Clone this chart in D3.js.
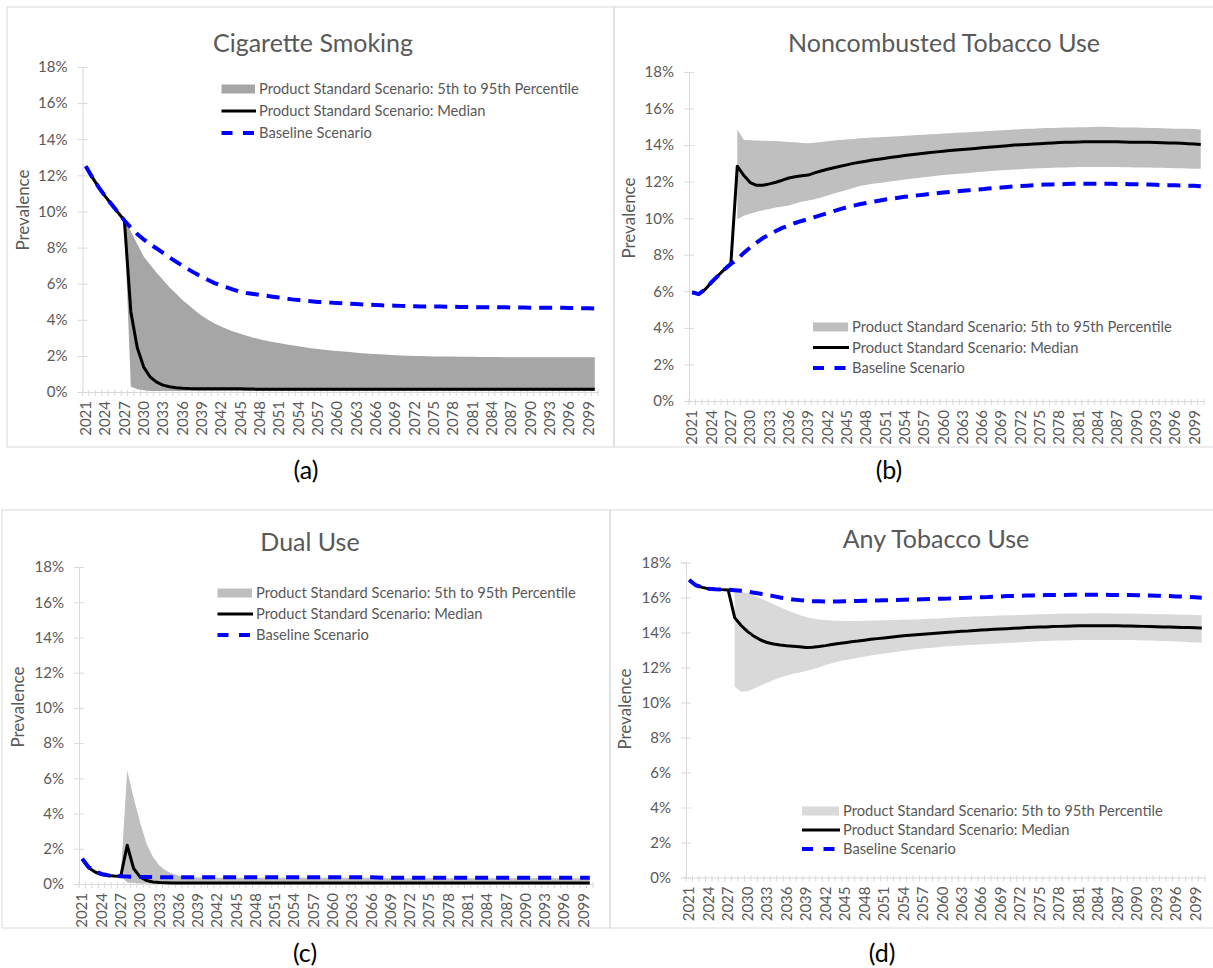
<!DOCTYPE html>
<meta charset='utf-8'>
<style>
  body { margin: 0; background: #fff; }
  text { font-family: Lato, 'Open Sans', sans-serif; }
</style>
<div id='chart'></div>
<script src='https://d3js.org/d3.v7.min.js'></script>
<script>

  // categories
  var years = d3.range(2021, 2101);
  var tickYears = [2021, 2024, 2027, 2030, 2033, 2036, 2039, 2042, 2045, 2048, 2051, 2054, 2057,
    2060, 2063, 2066, 2069, 2072, 2075, 2078, 2081, 2084, 2087, 2090, 2093, 2096, 2099];
  var yTicks = [0, 2, 4, 6, 8, 10, 12, 14, 16, 18];

  var legendLabels = ['Product Standard Scenario: 5th to 95th Percentile',
    'Product Standard Scenario: Median', 'Baseline Scenario'];

  // (a) cigarette smoking, prevalence %
  var aBase = [
    12.5, 11.9, 11.35, 10.85, 10.4, 9.95, 9.5, 9.1, 8.75, 8.45,
    8.18, 7.95, 7.7, 7.45, 7.22, 7.0, 6.78, 6.57, 6.38, 6.2,
    6.03, 5.9, 5.78, 5.66, 5.55, 5.48, 5.43, 5.38, 5.33, 5.28,
    5.23, 5.18, 5.13, 5.09, 5.05, 5.02, 4.99, 4.97, 4.95, 4.93,
    4.91, 4.89, 4.87, 4.85, 4.83, 4.82, 4.8, 4.79, 4.78, 4.77,
    4.76, 4.75, 4.74, 4.74, 4.73, 4.73, 4.72, 4.72, 4.71, 4.71,
    4.7, 4.7, 4.7, 4.69, 4.69, 4.69, 4.68, 4.68, 4.68, 4.67,
    4.67, 4.67, 4.66, 4.66, 4.66, 4.65, 4.65, 4.64, 4.64, 4.63];
  var aMedian = [
    12.5, 11.9, 11.35, 10.85, 10.4, 9.95, 9.5, 4.45, 2.45, 1.38,
    0.83, 0.55, 0.38, 0.29, 0.24, 0.21, 0.19, 0.18, 0.18, 0.18,
    0.18, 0.18, 0.18, 0.18, 0.18, 0.17, 0.16, 0.15, 0.15, 0.15,
    0.15, 0.15, 0.15, 0.15, 0.15, 0.15, 0.15, 0.15, 0.15, 0.15,
    0.15, 0.15, 0.15, 0.15, 0.15, 0.15, 0.15, 0.15, 0.15, 0.15,
    0.15, 0.15, 0.15, 0.15, 0.15, 0.15, 0.15, 0.15, 0.15, 0.15,
    0.15, 0.15, 0.15, 0.15, 0.15, 0.15, 0.15, 0.15, 0.15, 0.15,
    0.15, 0.15, 0.15, 0.15, 0.15, 0.15, 0.15, 0.15, 0.15, 0.15];
  var aHigh = [
    null, null, null, null, null, null, 9.5, 8.9, 8.2, 7.5,
    7.05, 6.6, 6.2, 5.8, 5.45, 5.1, 4.8, 4.5, 4.22, 4.0,
    3.8, 3.63, 3.48, 3.34, 3.22, 3.11, 3.01, 2.92, 2.84, 2.77,
    2.71, 2.65, 2.59, 2.53, 2.48, 2.43, 2.38, 2.34, 2.3, 2.27,
    2.24, 2.21, 2.18, 2.15, 2.12, 2.1, 2.08, 2.06, 2.04, 2.02,
    2.01, 2.0, 1.99, 1.98, 1.97, 1.97, 1.96, 1.96, 1.95, 1.95,
    1.95, 1.94, 1.94, 1.94, 1.94, 1.93, 1.93, 1.93, 1.93, 1.93,
    1.92, 1.92, 1.92, 1.92, 1.92, 1.92, 1.92, 1.92, 1.92, 1.92];
  var aLow = [
    null, null, null, null, null, null, 9.5, 0.3, 0.15, 0.1,
    0.06, 0.06, 0.06, 0.06, 0.06, 0.06, 0.06, 0.06, 0.06, 0.06,
    0.06, 0.06, 0.06, 0.06, 0.06, 0.06, 0.06, 0.06, 0.06, 0.06,
    0.06, 0.06, 0.06, 0.06, 0.06, 0.06, 0.06, 0.06, 0.06, 0.06,
    0.06, 0.06, 0.06, 0.06, 0.06, 0.06, 0.06, 0.06, 0.06, 0.06,
    0.06, 0.06, 0.06, 0.06, 0.06, 0.06, 0.06, 0.06, 0.06, 0.06,
    0.06, 0.06, 0.06, 0.06, 0.06, 0.06, 0.06, 0.06, 0.06, 0.06,
    0.06, 0.06, 0.06, 0.06, 0.06, 0.06, 0.06, 0.06, 0.06, 0.06];

  // (b) noncombusted tobacco use
  var bBase = [
    5.95, 5.85, 6.1, 6.5, 6.85, 7.2, 7.5, 7.75, 8.1, 8.4,
    8.67, 8.92, 9.12, 9.3, 9.47, 9.6, 9.74, 9.85, 9.95, 10.06,
    10.17, 10.28, 10.39, 10.5, 10.6, 10.68, 10.76, 10.83, 10.9, 10.96,
    11.02, 11.07, 11.12, 11.17, 11.21, 11.25, 11.29, 11.33, 11.37, 11.41,
    11.44, 11.47, 11.5, 11.53, 11.56, 11.59, 11.62, 11.65, 11.68, 11.71,
    11.74, 11.76, 11.78, 11.8, 11.82, 11.84, 11.85, 11.86, 11.87, 11.88,
    11.89, 11.89, 11.89, 11.89, 11.88, 11.88, 11.87, 11.87, 11.86, 11.86,
    11.85, 11.84, 11.83, 11.82, 11.81, 11.8, 11.79, 11.78, 11.77, 11.75];
  var bMedian = [
    5.95, 5.85, 6.1, 6.5, 6.85, 7.2, 7.5, 12.85, 12.35, 11.95,
    11.8, 11.8, 11.88, 11.97, 12.08, 12.2, 12.27, 12.32, 12.36, 12.48,
    12.58, 12.68, 12.76, 12.84, 12.92, 13.0, 13.06, 13.12, 13.18, 13.23,
    13.28, 13.33, 13.38, 13.43, 13.47, 13.51, 13.55, 13.59, 13.63, 13.67,
    13.7, 13.73, 13.76, 13.79, 13.82, 13.85, 13.88, 13.91, 13.94, 13.97,
    14.0, 14.02, 14.04, 14.06, 14.08, 14.1, 14.12, 14.14, 14.15, 14.16,
    14.17, 14.18, 14.18, 14.18, 14.18, 14.18, 14.18, 14.17, 14.16, 14.16,
    14.15, 14.15, 14.14, 14.13, 14.12, 14.11, 14.1, 14.08, 14.06, 14.04];
  var bHigh = [
    null, null, null, null, null, null, null, 14.85, 14.3, 14.27,
    14.25, 14.24, 14.23, 14.22, 14.2, 14.17, 14.15, 14.12, 14.1, 14.13,
    14.17, 14.21, 14.25, 14.28, 14.31, 14.34, 14.37, 14.39, 14.41, 14.43,
    14.45, 14.47, 14.49, 14.51, 14.53, 14.55, 14.57, 14.59, 14.61, 14.63,
    14.65, 14.67, 14.69, 14.71, 14.73, 14.75, 14.77, 14.79, 14.81, 14.83,
    14.85, 14.87, 14.89, 14.9, 14.92, 14.93, 14.94, 14.95, 14.96, 14.97,
    14.98, 14.98, 14.99, 15.0, 15.0, 14.99, 14.98, 14.97, 14.96, 14.96,
    14.95, 14.94, 14.93, 14.92, 14.91, 14.9, 14.9, 14.89, 14.88, 14.86];
  var bLow = [
    null, null, null, null, null, null, null, 9.95, 10.13, 10.25,
    10.35, 10.44, 10.51, 10.58, 10.64, 10.7, 10.8, 10.9, 10.97, 11.04,
    11.14, 11.25, 11.35, 11.45, 11.55, 11.66, 11.76, 11.82, 11.88, 11.93,
    11.97, 12.02, 12.07, 12.12, 12.16, 12.2, 12.24, 12.28, 12.32, 12.36,
    12.39, 12.42, 12.45, 12.48, 12.51, 12.54, 12.57, 12.6, 12.62, 12.64,
    12.66, 12.68, 12.7, 12.72, 12.73, 12.75, 12.76, 12.77, 12.78, 12.79,
    12.8, 12.8, 12.8, 12.8, 12.8, 12.8, 12.8, 12.79, 12.79, 12.78,
    12.78, 12.77, 12.76, 12.76, 12.75, 12.74, 12.73, 12.72, 12.71, 12.7];

  // (c) dual use
  var cBase = [
    1.43, 0.95, 0.72, 0.57, 0.5, 0.46, 0.44, 0.43, 0.41, 0.4,
    0.4, 0.39, 0.39, 0.39, 0.39, 0.39, 0.39, 0.39, 0.39, 0.39,
    0.39, 0.39, 0.39, 0.39, 0.39, 0.39, 0.39, 0.39, 0.39, 0.39,
    0.39, 0.39, 0.39, 0.39, 0.39, 0.39, 0.39, 0.39, 0.39, 0.39,
    0.39, 0.39, 0.39, 0.39, 0.39, 0.39, 0.37, 0.35, 0.35, 0.35,
    0.35, 0.35, 0.35, 0.35, 0.35, 0.35, 0.35, 0.35, 0.35, 0.35,
    0.35, 0.35, 0.35, 0.35, 0.35, 0.35, 0.35, 0.35, 0.35, 0.35,
    0.35, 0.35, 0.35, 0.35, 0.35, 0.35, 0.35, 0.35, 0.35, 0.35];
  var cMedian = [
    1.43, 0.92, 0.68, 0.54, 0.48, 0.45, 0.44, 2.2, 0.88, 0.4,
    0.2, 0.11, 0.08, 0.07, 0.06, 0.06, 0.06, 0.06, 0.06, 0.06,
    0.06, 0.06, 0.06, 0.06, 0.06, 0.06, 0.06, 0.06, 0.06, 0.06,
    0.06, 0.06, 0.06, 0.06, 0.06, 0.06, 0.06, 0.06, 0.06, 0.06,
    0.06, 0.06, 0.06, 0.06, 0.06, 0.06, 0.06, 0.06, 0.06, 0.06,
    0.06, 0.06, 0.06, 0.06, 0.06, 0.06, 0.06, 0.06, 0.06, 0.06,
    0.06, 0.06, 0.06, 0.06, 0.06, 0.06, 0.06, 0.06, 0.06, 0.06,
    0.06, 0.06, 0.06, 0.06, 0.06, 0.06, 0.06, 0.06, 0.06, 0.06];
  var cHigh = [
    null, null, null, null, null, null, 0.44, 6.45, 4.9, 3.5,
    2.3, 1.55, 1.05, 0.76, 0.58, 0.48, 0.42, 0.39, 0.37, 0.36,
    0.36, 0.36, 0.36, 0.36, 0.36, 0.36, 0.36, 0.36, 0.36, 0.36,
    0.36, 0.36, 0.36, 0.36, 0.36, 0.36, 0.36, 0.36, 0.36, 0.36,
    0.36, 0.36, 0.36, 0.36, 0.36, 0.36, 0.34, 0.33, 0.33, 0.33,
    0.33, 0.33, 0.33, 0.33, 0.33, 0.33, 0.33, 0.33, 0.33, 0.33,
    0.33, 0.33, 0.33, 0.33, 0.33, 0.33, 0.33, 0.33, 0.33, 0.33,
    0.33, 0.33, 0.33, 0.33, 0.33, 0.33, 0.33, 0.33, 0.33, 0.33];
  var cLow = [
    null, null, null, null, null, null, 0.44, 0.08, 0.05, 0.03,
    0.03, 0.03, 0.03, 0.03, 0.03, 0.03, 0.03, 0.03, 0.03, 0.03,
    0.03, 0.03, 0.03, 0.03, 0.03, 0.03, 0.03, 0.03, 0.03, 0.03,
    0.03, 0.03, 0.03, 0.03, 0.03, 0.03, 0.03, 0.03, 0.03, 0.03,
    0.03, 0.03, 0.03, 0.03, 0.03, 0.03, 0.03, 0.03, 0.03, 0.03,
    0.03, 0.03, 0.03, 0.03, 0.03, 0.03, 0.03, 0.03, 0.03, 0.03,
    0.03, 0.03, 0.03, 0.03, 0.03, 0.03, 0.03, 0.03, 0.03, 0.03,
    0.03, 0.03, 0.03, 0.03, 0.03, 0.03, 0.03, 0.03, 0.03, 0.03];

  // (d) any tobacco use
  var dBase = [
    17.0, 16.7, 16.58, 16.5, 16.47, 16.45, 16.44, 16.42, 16.38, 16.33,
    16.27, 16.21, 16.15, 16.08, 16.0, 15.94, 15.89, 15.85, 15.81, 15.79,
    15.78, 15.77, 15.77, 15.77, 15.78, 15.79, 15.8, 15.81, 15.82, 15.83,
    15.84, 15.85, 15.86, 15.87, 15.88, 15.89, 15.9, 15.91, 15.92, 15.93,
    15.94, 15.96, 15.97, 15.99, 16.0, 16.02, 16.03, 16.05, 16.06, 16.08,
    16.09, 16.1, 16.11, 16.12, 16.13, 16.14, 16.14, 16.15, 16.15, 16.16,
    16.16, 16.16, 16.16, 16.16, 16.16, 16.15, 16.15, 16.14, 16.14, 16.13,
    16.12, 16.11, 16.1, 16.09, 16.08, 16.06, 16.05, 16.03, 16.01, 15.99];
  var dMedian = [
    17.0, 16.7, 16.58, 16.5, 16.47, 16.45, 16.43, 14.85, 14.4, 14.05,
    13.78, 13.57, 13.43, 13.34, 13.28, 13.24, 13.21, 13.18, 13.14, 13.16,
    13.2, 13.25, 13.31, 13.37, 13.42, 13.47, 13.51, 13.56, 13.61, 13.65,
    13.69, 13.73, 13.77, 13.81, 13.84, 13.87, 13.9, 13.93, 13.96, 13.99,
    14.02, 14.04, 14.07, 14.09, 14.12, 14.14, 14.16, 14.18, 14.2, 14.22,
    14.24, 14.26, 14.28, 14.3, 14.31, 14.32, 14.34, 14.35, 14.36, 14.37,
    14.38, 14.38, 14.38, 14.38, 14.38, 14.38, 14.38, 14.37, 14.37, 14.36,
    14.35, 14.34, 14.33, 14.32, 14.31, 14.3, 14.29, 14.28, 14.27, 14.26];
  var dHigh = [
    null, null, null, null, null, null, null, 16.43, 16.35, 16.24,
    16.1, 15.95, 15.78, 15.62, 15.45, 15.29, 15.14, 15.0, 14.88, 14.8,
    14.75, 14.72, 14.69, 14.67, 14.66, 14.66, 14.66, 14.67, 14.68, 14.69,
    14.7, 14.71, 14.72, 14.73, 14.74, 14.75, 14.77, 14.78, 14.8, 14.82,
    14.84, 14.86, 14.88, 14.9, 14.92, 14.93, 14.94, 14.96, 14.97, 14.98,
    14.99, 15.0, 15.02, 15.03, 15.04, 15.05, 15.06, 15.07, 15.08, 15.09,
    15.09, 15.09, 15.1, 15.1, 15.1, 15.09, 15.09, 15.08, 15.08, 15.07,
    15.07, 15.06, 15.05, 15.05, 15.04, 15.03, 15.02, 15.01, 15.0, 14.99];
  var dLow = [
    null, null, null, null, null, null, null, 10.9, 10.62, 10.65,
    10.8, 10.97, 11.13, 11.28, 11.43, 11.55, 11.65, 11.72, 11.8, 11.9,
    12.02, 12.14, 12.25, 12.34, 12.42, 12.49, 12.56, 12.62, 12.68, 12.74,
    12.8, 12.85, 12.9, 12.95, 13.0, 13.05, 13.09, 13.12, 13.15, 13.18,
    13.21, 13.24, 13.26, 13.28, 13.3, 13.32, 13.34, 13.36, 13.38, 13.4,
    13.42, 13.44, 13.46, 13.48, 13.5, 13.52, 13.53, 13.54, 13.55, 13.56,
    13.57, 13.57, 13.57, 13.57, 13.57, 13.57, 13.57, 13.57, 13.57, 13.56,
    13.55, 13.54, 13.53, 13.52, 13.5, 13.49, 13.47, 13.45, 13.43, 13.41];

  // panel layout
  var panels = [
    { title: 'Cigarette Smoking', tag: '(a)', fill: '#a6a6a6',
      frame: [7, 7, 614, 447], xr: [82.5, 598], yr: [392, 67],
      titleAt: [313, 43], tagAt: [306, 470], yLabAt: [23, 210],
      leg: [221.5, 259, 89, 22], base: aBase, median: aMedian, hi: aHigh, lo: aLow },
    { title: 'Noncombusted Tobacco Use', tag: '(b)', fill: '#bfbfbf',
      frame: [614, 7, 1230, 447], xr: [689, 1204], yr: [401, 72],
      titleAt: [944, 43], tagAt: [889, 470], yLabAt: [629, 218],
      leg: [813, 852, 327, 20.5], base: bBase, median: bMedian, hi: bHigh, lo: bLow },
    { title: 'Dual Use', tag: '(c)', fill: '#bfbfbf',
      frame: [2, 510, 610, 928], xr: [79, 593], yr: [884, 567],
      titleAt: [310, 542], tagAt: [305, 953], yLabAt: [18, 707],
      leg: [217.5, 256, 593, 21], base: cBase, median: cMedian, hi: cHigh, lo: cLow },
    { title: 'Any Tobacco Use', tag: '(d)', fill: '#d9d9d9',
      frame: [610, 510, 1230, 928], xr: [686, 1205], yr: [877.5, 562.5],
      titleAt: [936, 539], tagAt: [882, 953], yLabAt: [625, 709],
      leg: [802, 843, 811, 19], base: dBase, median: dMedian, hi: dHigh, lo: dLow }
  ];

  var grey = '#595959', axisGrey = '#d9d9d9';

  var svg = d3.select('#chart')
    .append('svg')
      .attr('width', 1213)
      .attr('height', 968);

  svg.append('rect')
    .attr('width', 1213).attr('height', 968)
    .attr('fill', '#fff');

  panels.forEach(function(p) {
    var g = svg.append('g');

    g.append('rect')
      .attr('x', p.frame[0]).attr('y', p.frame[1])
      .attr('width', p.frame[2] - p.frame[0]).attr('height', p.frame[3] - p.frame[1])
      .attr('fill', 'none')
      .attr('stroke', axisGrey);

    var x = d3.scaleBand().domain(years).range(p.xr);
    var y = d3.scaleLinear().domain([0, 18]).range(p.yr);
    var cx = function(i) { return x(years[i]) + x.bandwidth() / 2; };

    // y axis
    g.append('g')
      .attr('transform', 'translate(' + p.xr[0] + ',0)')
      .call(d3.axisLeft(y).tickValues(yTicks).tickSize(5).tickPadding(10)
        .tickFormat(function(d) { return d + '%'; }))
      .call(function(ax) {
        ax.select('.domain').attr('stroke', axisGrey);
        ax.selectAll('.tick line').attr('x1', 5).attr('x2', -5).attr('stroke', axisGrey);
        ax.selectAll('.tick text').attr('fill', grey).style('font-size', '15px')
          .style('font-family', 'Lato');
      });

    // x axis, labels every third year
    g.append('g')
      .attr('transform', 'translate(0,' + p.yr[0] + ')')
      .call(d3.axisBottom(x).tickValues(tickYears).tickSize(0).tickSizeOuter(0))
      .call(function(ax) {
        ax.select('.domain').attr('stroke', axisGrey);
        ax.selectAll('.tick text')
          .attr('transform', 'rotate(-90)')
          .attr('x', -9).attr('y', 0).attr('dy', '0.35em')
          .attr('text-anchor', 'end')
          .attr('fill', grey).style('font-size', '15px')
          .style('font-family', 'Lato');
      });

    // category boundary ticks
    g.append('g')
      .selectAll('line')
      .data(years.concat([2101]))
      .enter()
      .append('line')
        .attr('x1', function(d) { return d > 2100 ? p.xr[1] : x(d); })
        .attr('x2', function(d) { return d > 2100 ? p.xr[1] : x(d); })
        .attr('y1', p.yr[0] - 2)
        .attr('y2', p.yr[0] + 4)
        .attr('stroke', axisGrey);

    // band
    var band = d3.area()
      .defined(function(d, i) { return p.hi[i] != null; })
      .x(function(d, i) { return cx(i); })
      .y0(function(d, i) { return y(p.lo[i]); })
      .y1(function(d, i) { return y(p.hi[i]); });
    g.append('path')
      .datum(years)
      .attr('d', band)
      .attr('fill', p.fill);

    var line = function(vals) {
      return d3.line()
        .x(function(d, i) { return cx(i); })
        .y(function(d) { return y(d); })(vals);
    };

    g.append('path')
      .attr('d', line(p.median))
      .attr('fill', 'none')
      .attr('stroke', '#000')
      .attr('stroke-width', 3)
      .attr('stroke-linejoin', 'round');

    g.append('path')
      .attr('d', line(p.base))
      .attr('fill', 'none')
      .attr('stroke', '#0000ff')
      .attr('stroke-width', 4)
      .attr('stroke-dasharray', '13,8');

    // titles
    g.append('text')
      .attr('x', p.titleAt[0]).attr('y', p.titleAt[1]).attr('dy', '0.35em')
      .attr('text-anchor', 'middle')
      .attr('fill', grey)
      .style('font-size', '25px')
      .text(p.title);

    g.append('text')
      .attr('transform', 'translate(' + p.yLabAt[0] + ',' + p.yLabAt[1] + ') rotate(-90)')
      .attr('dy', '0.35em')
      .attr('text-anchor', 'middle')
      .attr('fill', grey)
      .style('font-size', '17px')
      .text('Prevalence');

    g.append('text')
      .attr('x', p.tagAt[0]).attr('y', p.tagAt[1]).attr('dy', '0.35em')
      .attr('text-anchor', 'middle')
      .attr('fill', '#000')
      .style('font-size', '25px')
      .text(p.tag);

    // legend
    var lx = p.leg[0], tx = p.leg[1], ly = p.leg[2], step = p.leg[3];
    g.append('rect')
      .attr('x', lx).attr('y', ly - 4.5)
      .attr('width', tx - 4 - lx).attr('height', 9)
      .attr('fill', p.fill);
    g.append('line')
      .attr('x1', lx).attr('x2', tx - 3)
      .attr('y1', ly + step).attr('y2', ly + step)
      .attr('stroke', '#000').attr('stroke-width', 3);
    g.append('line')
      .attr('x1', lx).attr('x2', tx - 3)
      .attr('y1', ly + 2 * step).attr('y2', ly + 2 * step)
      .attr('stroke', '#0000ff').attr('stroke-width', 4)
      .attr('stroke-dasharray', '11,10.5');
    g.selectAll('.leg')
      .data(legendLabels)
      .enter()
      .append('text')
        .attr('x', tx)
        .attr('y', function(d, i) { return ly + i * step; })
        .attr('dy', '0.35em')
        .attr('fill', grey)
        .style('font-size', '14.7px')
        .text(function(d) { return d; });
  });

</script>
